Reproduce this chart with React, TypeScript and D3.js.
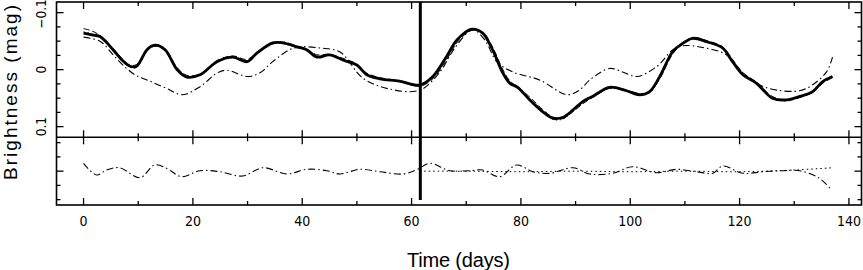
import { useRef, useEffect } from 'react';
import * as d3 from 'd3';

// Light curve (days vs magnitude)
const solidDays = [0, 1.5, 3, 5.4, 7, 8.5, 9.7, 11.6, 13, 14.9, 17.1, 18.9, 21.3, 24.4, 27.3, 29.9, 31.7, 34.6, 36.4, 39, 40.8, 42.7, 45, 47.4, 50, 51.8, 54.2, 57.8, 61.5, 63.9, 66.4, 68.3, 71, 73, 74.8, 76.7, 78, 79.4, 81.6, 84, 85.8, 87.6, 89.5, 91.3, 93.1, 96.2, 99.3, 101.7, 103.5, 105.4, 107.8, 109.6, 111.4, 114, 116.9, 118.7, 120.6, 123.1, 126, 128.6, 131, 133.3, 135.2, 137];
const solidMag = [-0.064, -0.061, -0.058, -0.035, -0.017, -0.006, -0.006, -0.035, -0.043, -0.035, 0.0, 0.013, 0.009, -0.014, -0.022, -0.014, -0.029, -0.047, -0.047, -0.04, -0.035, -0.022, -0.026, -0.017, -0.008, 0.009, 0.016, 0.02, 0.027, 0.012, -0.023, -0.052, -0.071, -0.064, -0.035, 0.006, 0.024, 0.031, 0.053, 0.074, 0.085, 0.084, 0.071, 0.056, 0.047, 0.031, 0.037, 0.044, 0.039, 0.012, -0.032, -0.046, -0.055, -0.049, -0.038, -0.014, 0.009, 0.024, 0.05, 0.053, 0.047, 0.039, 0.021, 0.012];
const dashedMag = [-0.072, -0.068, -0.06, -0.037, -0.02, -0.008, -0.009, -0.033, -0.041, -0.036, -0.004, 0.01, 0.008, -0.016, -0.024, -0.018, -0.03, -0.045, -0.048, -0.042, -0.036, -0.026, -0.027, -0.02, -0.01, 0.006, 0.014, 0.02, 0.029, 0.016, -0.017, -0.047, -0.069, -0.066, -0.04, 0.0, 0.02, 0.03, 0.048, 0.07, 0.083, 0.086, 0.074, 0.06, 0.049, 0.033, 0.036, 0.042, 0.04, 0.016, -0.028, -0.045, -0.056, -0.051, -0.04, -0.018, 0.005, 0.022, 0.047, 0.054, 0.049, 0.04, 0.024, 0.014];
const dottedMag = [-0.066, -0.063, -0.057, -0.036, -0.019, -0.004, -0.004, -0.032, -0.044, -0.037, -0.002, 0.011, 0.01, -0.013, -0.021, -0.016, -0.028, -0.046, -0.049, -0.041, -0.034, -0.024, -0.025, -0.018, -0.009, 0.007, 0.015, 0.021, 0.028, 0.014, -0.02, -0.05, -0.07, -0.065, -0.038, 0.003, 0.022, 0.033, 0.051, 0.072, 0.087, 0.087, 0.073, 0.058, 0.048, 0.032, 0.038, 0.045, 0.041, 0.014, -0.03, -0.047, -0.054, -0.05, -0.039, -0.016, 0.007, 0.025, 0.049, 0.055, 0.048, 0.04, 0.022, 0.013];

const modelDays = [0, 3, 5.4, 7.2, 9.4, 12.1, 15.2, 18, 21.3, 24.4, 26.2, 29.9, 32.2, 34.6, 37.7, 39.6, 43.2, 46.9, 51.1, 56, 61.5, 65.2, 67.9, 71.2, 73.4, 75.6, 78.5, 83.4, 88.4, 90.7, 92.6, 96.2, 98.6, 101.2, 104.8, 107.8, 109.6, 113.2, 117.6, 120.6, 123.7, 126.8, 131, 133.3, 135.9, 137];
const modelMag = [-0.057, -0.05, -0.026, -0.008, 0.009, 0.02, 0.033, 0.044, 0.03, 0.006, 0.001, 0.012, 0.006, -0.014, -0.035, -0.04, -0.038, -0.031, 0.015, 0.034, 0.036, 0.004, -0.038, -0.07, -0.052, -0.014, 0.004, 0.018, 0.044, 0.036, 0.018, -0.002, 0.004, 0.012, -0.005, -0.035, -0.042, -0.039, -0.026, 0.006, 0.027, 0.036, 0.037, 0.027, 0.004, -0.022];

// Residuals (lower panel)
const residDays = [0, 2.4, 4.2, 6.6, 10.3, 13, 15.2, 17.9, 21.3, 24.9, 29.1, 32.8, 37.2, 40.8, 44.5, 46.9, 50.5, 54.2, 58.4, 61.1, 63.3, 67, 70.6, 73, 76.1, 79.2, 82.2, 85.3, 89.5, 92.6, 96.8, 100.4, 104.8, 108.5, 112.1, 115.1, 116.9, 120.6, 124.2, 127.9, 131, 134.6, 136.8];
const residMag = [-0.0138, 0.0068, -0.002, -0.006, 0.0115, -0.0108, -0.005, 0.0097, -0.0008, 0.001, 0.0085, -0.006, 0.005, -0.0032, -0.0008, 0.005, -0.0032, 0.001, 0.005, -0.0032, -0.0138, -0.0008, -0.0008, -0.002, 0.0097, -0.0108, 0.001, 0.0038, -0.006, 0.005, 0.0038, -0.0078, 0.0027, -0.0032, 0.001, 0.0038, -0.009, 0.0038, 0.001, -0.0008, -0.0008, 0.0125, 0.033];
const residDotDays = [61.5, 70, 80, 90, 100, 110, 120, 130, 137];
const residDotMag = [0.0, 0.0, 0.001, 0.0, 0.001, 0.0, 0.001, -0.002, -0.006];

const splitDay = 61.6;
const xTicks = [0, 20, 40, 60, 80, 100, 120, 140];
const yTicks = [-0.1, 0, 0.1];
const yTickLabels = ['\u22120.1', '0', '0.1'];

export default function App() {
  const ref = useRef(null);

  useEffect(() => {
    const width = 863;
    const height = 270;
    const svg = d3.select(ref.current).attr('width', width).attr('height', height);
    svg.selectAll('*').remove();

    const font = '"Liberation Sans", Arial, sans-serif';
    const narrow = '"Liberation Sans Narrow", "DejaVu Sans Condensed", "Liberation Sans", sans-serif';
    const left = 56.5, right = 861.5, top = 2, mid = 137.3, bottom = 205;

    const x = d3.scaleLinear().domain([-4.95, 142.3]).range([left, right]);
    const yTop = d3.scaleLinear().domain([-0.1187, 0.1187]).range([top, mid]);
    const yBot = d3.scaleLinear().domain([-0.0594, 0.0594]).range([mid, bottom]);

    const curve = d3.curveCatmullRom.alpha(0.5);
    const lineTop = d3.line<[number, number]>().x(d => x(d[0])).y(d => yTop(d[1])).curve(curve);
    const lineBot = d3.line<[number, number]>().x(d => x(d[0])).y(d => yBot(d[1])).curve(curve);
    const zip = (a: number[], b: number[]) => a.map((v, i) => [v, b[i]] as [number, number]);

    const g = svg.append('g');

    // upper panel curves
    g.append('path').datum(zip(modelDays, modelMag)).attr('d', lineTop)
      .attr('fill', 'none').attr('stroke', '#000').attr('stroke-width', 1.1).attr('stroke-dasharray', '7,3,1.5,3');
    g.append('path').datum(zip(solidDays, dottedMag)).attr('d', lineTop)
      .attr('fill', 'none').attr('stroke', '#000').attr('stroke-width', 1).attr('stroke-dasharray', '1.5,2.5');
    g.append('path').datum(zip(solidDays, dashedMag)).attr('d', lineTop)
      .attr('fill', 'none').attr('stroke', '#000').attr('stroke-width', 1).attr('stroke-dasharray', '6,3');
    g.append('path').datum(zip(solidDays, solidMag)).attr('d', lineTop)
      .attr('fill', 'none').attr('stroke', '#000').attr('stroke-width', 2.8).attr('stroke-linejoin', 'round');

    // lower panel residuals
    g.append('path').datum(zip(residDotDays, residDotMag)).attr('d', lineBot)
      .attr('fill', 'none').attr('stroke', '#000').attr('stroke-width', 1).attr('stroke-dasharray', '1.5,3');
    g.append('path').datum(zip(residDays, residMag)).attr('d', lineBot)
      .attr('fill', 'none').attr('stroke', '#000').attr('stroke-width', 1.1).attr('stroke-dasharray', '7,3,1.5,3');

    // thick vertical marker
    g.append('line')
      .attr('x1', x(splitDay)).attr('x2', x(splitDay))
      .attr('y1', top).attr('y2', yBot(0.0506))
      .attr('stroke', '#000').attr('stroke-width', 3);

    // frames
    const frame = svg.append('g').attr('fill', 'none').attr('stroke', '#000').attr('stroke-width', 1.6);
    frame.append('rect').attr('x', left).attr('y', top).attr('width', right - left).attr('height', bottom - top);
    frame.append('line').attr('x1', left).attr('x2', right).attr('y1', mid).attr('y2', mid);

    // ticks
    const ticks = svg.append('g').attr('stroke', '#000').attr('stroke-width', 1.3);
    d3.range(0, 141, 10).forEach(t => {
      const len = t % 20 === 0 ? 7 : 4;
      const px = x(t);
      ticks.append('line').attr('x1', px).attr('x2', px).attr('y1', top).attr('y2', top + len);
      ticks.append('line').attr('x1', px).attr('x2', px).attr('y1', mid - len).attr('y2', mid + len);
      ticks.append('line').attr('x1', px).attr('x2', px).attr('y1', bottom).attr('y2', bottom - len);
    });
    d3.range(-0.1, 0.1001, 0.025).forEach(v => {
      const major = Math.abs(v * 10 - Math.round(v * 10)) < 1e-6;
      const len = major ? 7 : 4;
      const py = yTop(v);
      ticks.append('line').attr('x1', left).attr('x2', left + len).attr('y1', py).attr('y2', py);
      ticks.append('line').attr('x1', right).attr('x2', right - len).attr('y1', py).attr('y2', py);
    });
    d3.range(-0.05, 0.0501, 0.025).forEach(v => {
      const len = Math.abs(v) < 1e-6 ? 7 : 4;
      const py = yBot(v);
      ticks.append('line').attr('x1', left).attr('x2', left + len).attr('y1', py).attr('y2', py);
      ticks.append('line').attr('x1', right).attr('x2', right - len).attr('y1', py).attr('y2', py);
    });

    // tick labels
    const labels = svg.append('g').attr('fill', '#000');
    xTicks.forEach(t => {
      labels.append('text').attr('x', x(t)).attr('y', 226).attr('text-anchor', 'middle')
        .attr('font-family', narrow).attr('font-size', 14).text(String(t));
    });
    yTicks.forEach((v, i) => {
      // keep the top label inside the page
      const cy = Math.max(yTop(v), 14);
      labels.append('text')
        .attr('transform', `translate(46,${cy}) rotate(-90)`)
        .attr('font-family', narrow)
        .attr('text-anchor', 'middle').attr('font-size', 13.5).text(yTickLabels[i]);
    });

    // axis titles
    labels.append('text').attr('x', 407).attr('y', 267)
      .attr('font-family', font).attr('font-size', 20)
      .attr('textLength', 103).attr('lengthAdjust', 'spacing').text('Time (days)');
    labels.append('text')
      .attr('transform', 'translate(17,180) rotate(-90)')
      .attr('font-family', font).attr('font-size', 19)
      .attr('textLength', 175).attr('lengthAdjust', 'spacing').text('Brightness (mag)');
  }, []);

  return <svg ref={ref} style={{ position: 'absolute', left: 0, top: 0, background: '#fff' }}></svg>;
}
